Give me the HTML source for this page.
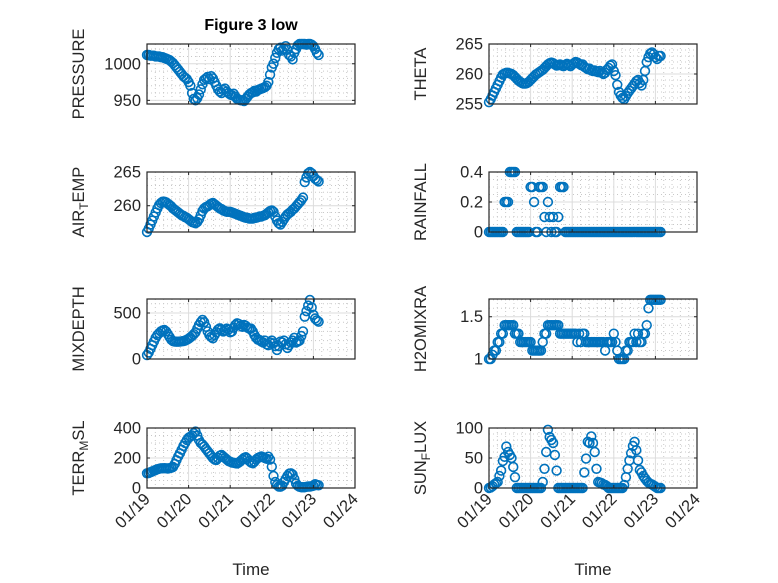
<!DOCTYPE html>
<html><head><meta charset="utf-8"><style>
html,body{margin:0;padding:0;background:#fff;}
svg{display:block;font-family:"Liberation Sans",sans-serif;}
</style></head><body>
<svg id="fig" width="778" height="583" viewBox="0 0 778 583" xmlns="http://www.w3.org/2000/svg">
<rect width="778" height="583" fill="#fff"/>
<text x="251" y="30" font-size="16" font-weight="bold" text-anchor="middle" fill="#000">Figure 3 low</text>
<text x="251" y="575" font-size="17" text-anchor="middle" fill="#262626">Time</text>
<text x="593" y="575" font-size="17" text-anchor="middle" fill="#262626">Time</text>
</svg>
<script>
const pressure=[1012,1012,1011,1011,1011,1010,1010,1010,1009,1009,1008,1007,1006,1005,1003,1001,998,995,992,989,986,983,981,979,975,970,960,952,950,953,958,965,972,978,980,982,979,983,980,975,970,965,962,960,964,966,962,960,958,957,959,955,952,951,950,950,949,952,955,958,960,961,963,962,964,965,966,967,968,970,975,985,995,1000,1008,1015,1020,1022,1018,1020,1024,1019,1012,1010,1006,1015,1020,1025,1027,1027,1027,1027,1026,1027,1027,1026,1024,1020,1015,1012];
const theta=[255.3,255.8,256.4,257,257.6,258.2,258.8,259.4,259.9,260.1,260.2,260.2,260.1,260,259.8,259.5,259.2,258.9,258.7,258.5,258.4,258.4,258.5,258.7,259,259.3,259.6,259.9,260.1,260.3,260.5,260.7,261,261.3,261.6,261.8,261.9,261.8,261.6,261.4,261.5,261.6,261.4,261.3,261.5,261.7,261.5,261.3,261.6,261.8,262,261.9,261.7,261.5,261.6,261.2,261,260.8,260.9,260.6,260.5,260.6,260.4,260.3,260.5,260.2,260,260.2,260.7,261,261.4,261.6,260.5,259.8,258.2,257,256.4,256,255.8,256.3,256.8,257.2,257.6,258,258.4,258.8,259,258.5,258.1,259,260.5,262,262.8,263.4,263.6,263.3,262.8,262.5,263,263];
const airTemp=[256.1,256.6,257.2,257.8,258.4,259,259.6,260.1,260.4,260.6,260.6,260.5,260.3,260.1,259.9,259.6,259.4,259.2,259,258.8,258.6,258.5,258.3,258.2,258,257.8,257.6,257.5,257.4,257.6,258,258.6,259.2,259.6,259.8,259.9,260.1,260.3,260.4,260.2,260,259.8,259.6,259.5,259.3,259.2,259.1,259.1,259.1,259,258.9,258.8,258.7,258.6,258.5,258.4,258.3,258.2,258.2,258.1,258.1,258.1,258.2,258.2,258.3,258.4,258.4,258.5,258.6,258.8,259,259.2,259.3,259.1,258.4,257.8,257.4,257.2,257.6,258,258.4,258.7,258.9,259.1,259.4,259.6,259.9,260.2,260.5,260.8,261.2,263.5,264.2,264.8,265,264.8,264.4,264,263.8,263.6];
const rainfall=[0,0,0,0,0,0,0,0,0,0.2,0.2,0.2,0.4,0.4,0.4,0.4,0,0,0,0,0,0,0,0,0.3,0.3,0.2,0,0,0.3,0.3,0.3,0.1,0,0.2,0.1,0,0.1,0,0,0.1,0.3,0.3,0.3,0,0,0,0,0,0,0,0,0,0,0,0,0,0,0,0,0,0,0,0,0,0,0,0,0,0,0,0,0,0,0,0,0,0,0,0,0,0,0,0,0,0,0,0,0,0,0,0,0,0,0,0,0,0,0,0];
const mixDepth=[43,70,110,150,190,230,260,280,300,310,315,300,270,240,210,195,190,188,188,190,192,195,200,210,220,235,250,270,290,330,370,400,424,400,350,300,260,240,225,260,290,320,333,320,300,310,330,320,290,300,340,370,388,380,360,350,370,360,340,330,330,300,260,230,210,206,190,180,200,160,150,180,200,170,140,98,140,190,180,200,160,120,150,180,200,230,180,190,200,250,300,460,520,580,641,560,480,440,420,406];
const h2oMix=[1,1,1.05,1.1,1.1,1.2,1.2,1.3,1.3,1.4,1.4,1.4,1.4,1.4,1.4,1.3,1.3,1.3,1.2,1.2,1.2,1.2,1.2,1.2,1.2,1.1,1.1,1.1,1.1,1.1,1.1,1.2,1.3,1.3,1.4,1.4,1.4,1.4,1.4,1.4,1.4,1.3,1.3,1.3,1.3,1.3,1.3,1.3,1.3,1.3,1.3,1.2,1.3,1.2,1.3,1.3,1.2,1.2,1.2,1.2,1.2,1.2,1.2,1.2,1.2,1.2,1.2,1.1,1.2,1.2,1.2,1.2,1.3,1.2,1.1,1,1,1,1,1.1,1.1,1.2,1.2,1.2,1.3,1.2,1.3,1.2,1.2,1.3,1.3,1.4,1.6,1.7,1.7,1.7,1.7,1.7,1.7,1.7];
const terrMsl=[98,100,105,110,115,120,125,128,131,131,132,131,130,132,135,140,160,185,210,231,255,280,300,320,335,342,350,365,376,350,320,300,290,276,260,245,231,215,200,190,187,200,215,220,210,200,190,180,175,170,168,165,164,170,180,190,200,205,195,180,170,165,175,190,200,205,210,205,200,195,209,190,142,80,40,20,10,9,15,40,60,80,95,98,90,60,30,15,8,5,5,5,8,10,10,12,15,25,20,18];
const sunFlux=[0,1,3,6,8,10,20,29,45,52,69,60,55,50,35,18,0,0,0,0,0,0,0,0,0,0,0,0,0,0,0,10,32,60,97,85,80,75,55,29,0,0,0,0,0,0,0,0,0,0,0,0,0,0,0,26,49,77,75,86,75,60,32,10,9,8,6,5,3,0,0,0,0,0,0,0,0,0,5,18,32,46,58,70,77,63,46,30,26,20,16,12,9,7,6,4,2,0,0,0];
const startDay=19, hoursPerSample=1;
const xTickLabels=["01/19","01/20","01/21","01/22","01/23","01/24"];
const xTickDays=[19,20,21,22,23,24];

const NS="http://www.w3.org/2000/svg";
const svg=document.getElementById('fig');
function mk(tag,attrs,parent){const e=document.createElementNS(NS,tag);for(const k in attrs)e.setAttribute(k,attrs[k]);(parent||svg).appendChild(e);return e;}

const panels=[
 {key:'pressure',data:pressure,x0:147,y0:44,ymin:945,ymax:1027,ticks:[950,1000],minor:10,label:'PRESSURE',fmt:v=>String(v)},
 {key:'theta',data:theta,x0:489,y0:44,ymin:255,ymax:265,ticks:[255,260,265],minor:1,label:'THETA',fmt:v=>String(v)},
 {key:'air-temp',data:airTemp,x0:147,y0:172,ymin:256.1,ymax:265,ticks:[260,265],minor:1,label:['AIR','T','EMP'],fmt:v=>String(v)},
 {key:'rainfall',data:rainfall,x0:489,y0:172,ymin:0,ymax:0.4,ticks:[0,0.2,0.4],minor:0.05,label:'RAINFALL',fmt:v=>String(v)},
 {key:'mixdepth',data:mixDepth,x0:147,y0:299,ymin:0,ymax:652,ticks:[0,500],minor:100,label:'MIXDEPTH',fmt:v=>String(v)},
 {key:'h2omixra',data:h2oMix,x0:489,y0:299,ymin:1,ymax:1.71,ticks:[1,1.5],minor:0.1,label:'H2OMIXRA',fmt:v=>String(v)},
 {key:'terr-msl',data:terrMsl,x0:147,y0:428,ymin:0,ymax:400,ticks:[0,200,400],minor:50,label:['TERR','M','SL'],fmt:v=>String(v),bottom:true},
 {key:'sun-flux',data:sunFlux,x0:489,y0:428,ymin:0,ymax:100,ticks:[0,50,100],minor:10,label:['SUN','F','LUX'],fmt:v=>String(v),bottom:true}
];
const W=208,H=60;
panels.forEach(p=>{
 const g=mk('g',{});
 
 
 const xs=d=>p.x0+(d-19)/5*W;
 const ys=v=>p.y0+H-(v-p.ymin)/(p.ymax-p.ymin)*H;
 for(let d=19;d<24-1e-9;d+=0.2){const x=xs(d);if(Math.abs(d-Math.round(d))<1e-6)continue;
  mk('line',{x1:x,x2:x,y1:p.y0,y2:p.y0+H,stroke:'#c8c8c8','stroke-width':1,'stroke-dasharray':'1 3'},g);}
 const m0=Math.ceil(p.ymin/p.minor-1e-9);
 for(let k=m0;k*p.minor<=p.ymax+1e-9;k++){const v=k*p.minor;if(p.ticks.some(t=>Math.abs(t-v)<1e-9))continue;const y=ys(v);
  mk('line',{x1:p.x0,x2:p.x0+W,y1:y,y2:y,stroke:'#c8c8c8','stroke-width':1,'stroke-dasharray':'1 3'},g);}
 xTickDays.forEach(d=>{const x=xs(d);mk('line',{x1:x,x2:x,y1:p.y0,y2:p.y0+H,stroke:'#dcdcdc','stroke-width':1},g);});
 p.ticks.forEach(t=>{const y=ys(t);mk('line',{x1:p.x0,x2:p.x0+W,y1:y,y2:y,stroke:'#dcdcdc','stroke-width':1},g);});
 p.data.forEach((v,i)=>{const d=startDay+i*hoursPerSample/24;
  const c=mk('circle',{cx:xs(d).toFixed(2),cy:ys(v).toFixed(2),r:4.4,fill:'none',stroke:'#0072BD','stroke-width':1.6},g);
  
  });
 mk('rect',{x:p.x0,y:p.y0,width:W,height:H,fill:'none',stroke:'#262626','stroke-width':1.2},g);
 xTickDays.forEach(d=>{const x=xs(d);mk('line',{x1:x,x2:x,y1:p.y0+H,y2:p.y0+H-3,stroke:'#262626'},g);mk('line',{x1:x,x2:x,y1:p.y0,y2:p.y0+3,stroke:'#262626'},g);});
 p.ticks.forEach(t=>{const y=ys(t);mk('line',{x1:p.x0,x2:p.x0+3,y1:y,y2:y,stroke:'#262626'},g);mk('line',{x1:p.x0+W,x2:p.x0+W-3,y1:y,y2:y,stroke:'#262626'},g);
  const tl=mk('text',{x:p.x0-6,y:y+5.5,'font-size':16.5,'text-anchor':'end',fill:'#262626'},g);tl.textContent=p.fmt(t);
  
  });
 const lx=p.x0-63, ly=p.y0+H/2;
 const yl=mk('text',{x:lx,y:ly,'font-size':16.5,'text-anchor':'middle',fill:'#262626',transform:`rotate(-90 ${lx} ${ly})`},g);
 
 
 if(typeof p.label==='string')yl.textContent=p.label;
 else{const a=mk('tspan',{},yl);a.textContent=p.label[0];const b=mk('tspan',{'font-size':12,dy:4},yl);b.textContent=p.label[1];const c=mk('tspan',{dy:-4},yl);c.textContent=p.label[2];}
 if(p.bottom){xTickDays.forEach((d,i)=>{const x=xs(d)+4,y=p.y0+H+12;
  const t=mk('text',{x:x,y:y,'font-size':16.5,'text-anchor':'end',fill:'#262626',transform:`rotate(-45 ${x} ${y})`},g);
  t.textContent=xTickLabels[i];
  
  });}
});
</script>
</body></html>
